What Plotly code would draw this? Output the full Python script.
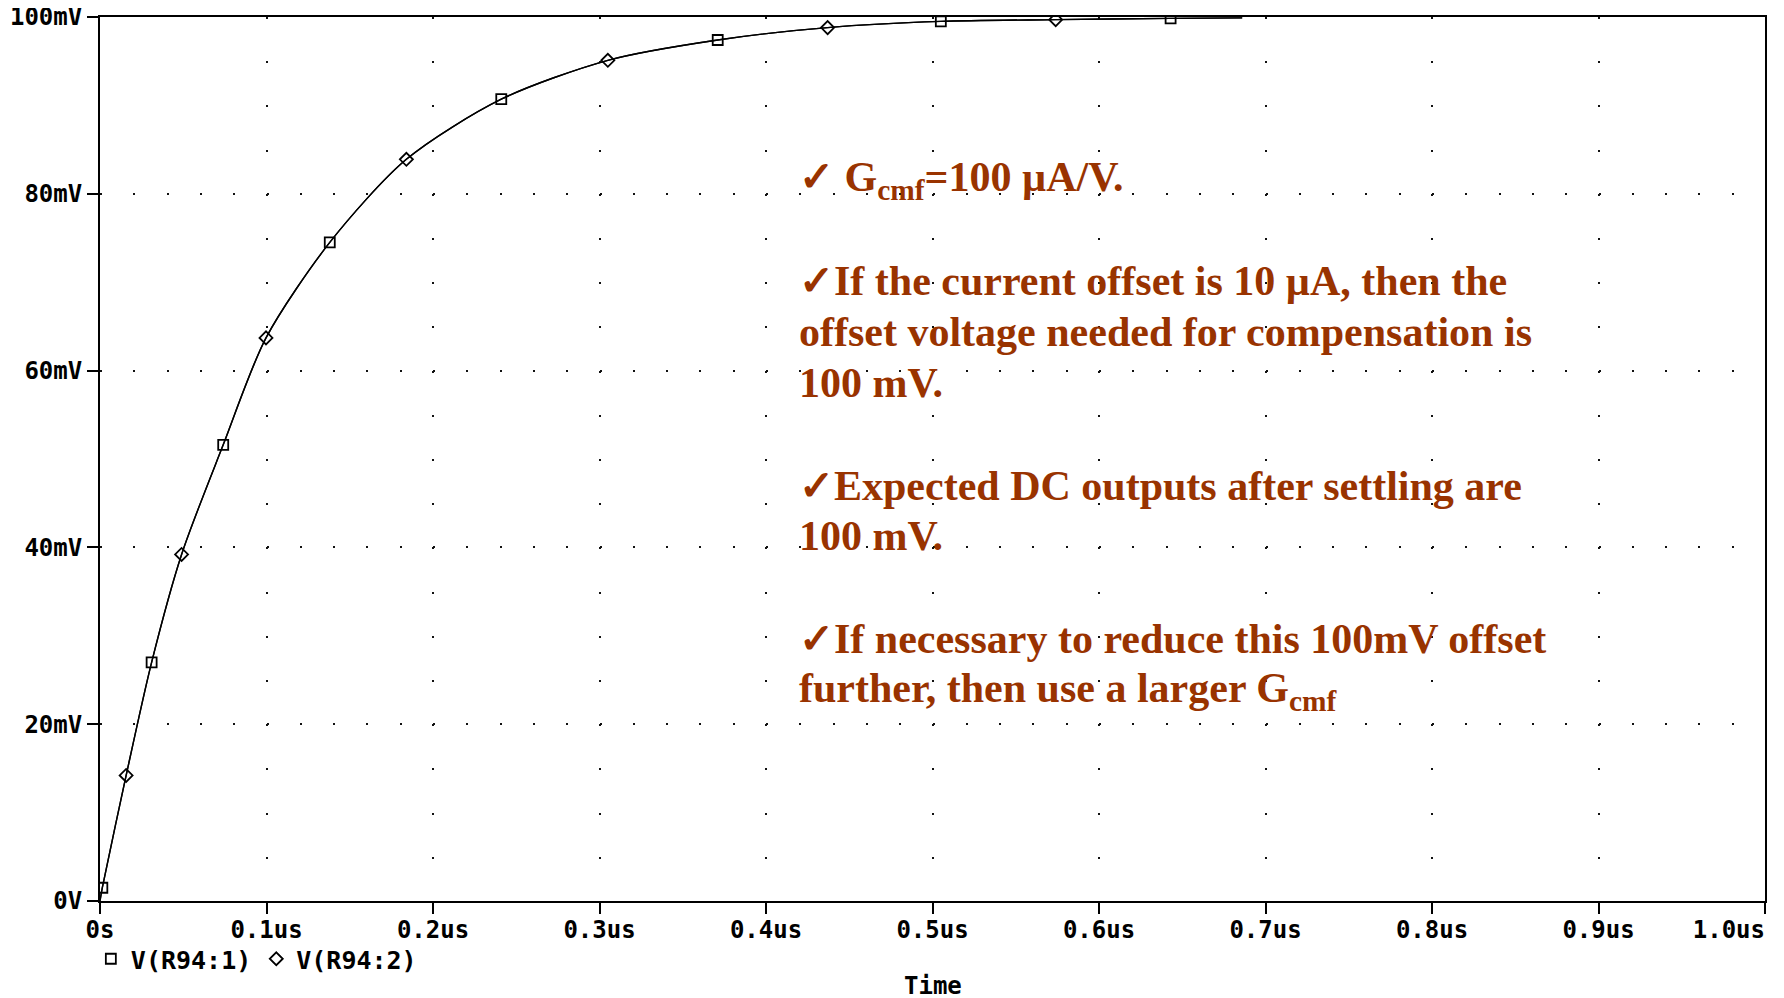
import plotly.graph_objects as go

# ---- data ----
time_us = [0, 0.0014, 0.0157, 0.031, 0.049, 0.074, 0.0997, 0.138, 0.184, 0.241,
           0.305, 0.371, 0.437, 0.505, 0.574, 0.643, 0.686]
v_r94_1_mV = [0, 1.5, 14.2, 27.0, 39.2, 51.6, 63.7, 74.5, 83.9, 90.7,
              95.1, 97.4, 98.8, 99.5, 99.7, 99.85, 99.9]
v_r94_2_mV = [0, 1.5, 14.2, 27.0, 39.2, 51.6, 63.7, 74.5, 83.9, 90.7,
              95.1, 97.4, 98.8, 99.5, 99.7, 99.85, 99.9]
marker_idx_1 = [1, 3, 5, 7, 9, 11, 13, 15]
marker_idx_2 = [2, 4, 6, 8, 10, 12, 14]
series_names = ["V(R94:1)", "V(R94:2)"]

x_tick_vals = [0, 0.1, 0.2, 0.3, 0.4, 0.5, 0.6, 0.7, 0.8, 0.9, 1.0]
x_tick_text = ["0s", "0.1us", "0.2us", "0.3us", "0.4us", "0.5us",
               "0.6us", "0.7us", "0.8us", "0.9us", "1.0us"]
y_tick_vals = [0, 20, 40, 60, 80, 100]
y_tick_text = ["0V", "20mV", "40mV", "60mV", "80mV", "100mV"]
x_title = "Time"

notes = [
    "\u2713 G<sub>cmf</sub>=100 \u00b5A/V.",
    "\u2713If the current offset is 10 \u00b5A, then the",
    "offset voltage needed for compensation is",
    "100 mV.",
    "\u2713Expected DC outputs after settling are",
    "100 mV.",
    "\u2713If necessary to reduce this 100mV offset",
    "further, then use a larger G<sub>cmf</sub>",
]
note_y_px = [180, 281, 332, 383, 486, 536, 639, 691]

# ---- layout constants ----
# the page body has an 8px margin, so the figure is sized/offset to compensate
BODY = 8
W, H = 1784 - BODY, 998 - BODY
ML, MR, MT, MB = 100 - BODY, 19, 17 - BODY, 97
PL, PT = 100, 17                      # plot-area origin in screenshot pixels
PW, PH = W - ML - MR, H - MT - MB
MONO = "DejaVu Sans Mono"
SERIF = "Liberation Serif, Times New Roman, serif"
TICK_FONT = dict(family=MONO, size=24, color="black", weight="bold")
LEGEND_FONT = dict(family=MONO, size=25, color="black", weight="bold")

# last x label is right-aligned to the plot edge in the reference
x_tick_labels = x_tick_text[:-1] + [x_tick_text[-1] + "\u00a0" * 5]

fig = go.Figure()

for name, vals, idx, sym in [
    (series_names[0], v_r94_1_mV, marker_idx_1, "square-open"),
    (series_names[1], v_r94_2_mV, marker_idx_2, "diamond-open"),
]:
    fig.add_trace(go.Scatter(
        x=time_us, y=vals, mode="lines", showlegend=False,
        line=dict(color="black", width=1.4, shape="spline", smoothing=0.8),
        hoverinfo="skip",
    ))
    fig.add_trace(go.Scatter(
        x=[time_us[i] for i in idx], y=[vals[i] for i in idx],
        mode="markers", name=name, showlegend=True,
        marker=dict(symbol=sym, size=10, color="black",
                    line=dict(color="black", width=1.8)),
    ))

for txt, ypx in zip(notes, note_y_px):
    fig.add_annotation(
        xref="paper", yref="paper",
        x=(797 - PL) / PW, y=(PT + PH - ypx) / PH,
        xanchor="left", yanchor="middle",
        text=txt, showarrow=False,
        font=dict(family=SERIF, size=42, color="#993300", weight="bold"),
    )

# x-axis title, placed as in the reference
fig.add_annotation(
    xref="paper", yref="paper", x=0.5, y=(PT + PH - 986) / PH,
    xanchor="center", yanchor="middle", text=x_title, showarrow=False,
    font=TICK_FONT,
)

fig.update_layout(
    width=W, height=H,
    margin=dict(l=ML, r=MR, t=MT, b=MB, pad=0, autoexpand=False),
    paper_bgcolor="white", plot_bgcolor="white",
    font=TICK_FONT,
    legend=dict(
        orientation="h", x=-0.0055, xanchor="left",
        y=(PT + PH - 959) / PH, yanchor="middle",
        font=LEGEND_FONT, bgcolor="rgba(0,0,0,0)", itemclick=False,
    ),
    xaxis=dict(
        range=[0, 1.0], tickmode="array", tickvals=x_tick_vals, ticktext=x_tick_labels,
        automargin=False, ticklabeloverflow="allow", ticklabelstandoff=-5,
        showline=True, mirror=True, linecolor="black", linewidth=2,
        ticks="outside", ticklen=11, tickwidth=2, tickcolor="black",
        showgrid=True, gridcolor="#111111", gridwidth=1.6,
        griddash="2px,%.2fpx" % (PH / 20 - 2),
        zeroline=False, tickfont=TICK_FONT,
    ),
    yaxis=dict(
        range=[0, 100], tickmode="array", tickvals=y_tick_vals, ticktext=y_tick_text,
        automargin=False, ticklabeloverflow="allow",
        showline=True, mirror=True, linecolor="black", linewidth=2,
        ticks="outside", ticklen=11, tickwidth=2, tickcolor="black",
        showgrid=True, gridcolor="#111111", gridwidth=1.6,
        griddash="2px,%.2fpx" % (PW / 50 - 2),
        zeroline=False, tickfont=TICK_FONT,
    ),
)

fig.write_html("out.html")
